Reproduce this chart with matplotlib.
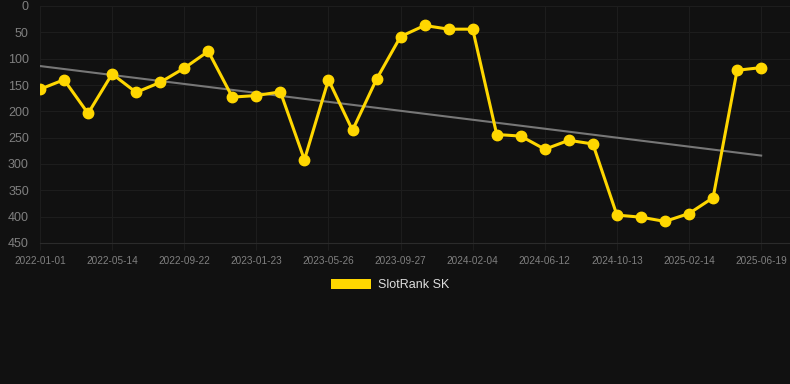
import numpy as np
import matplotlib.pyplot as plt
from matplotlib.patches import Patch

plt.rcParams['font.family'] = ['Liberation Sans', 'DejaVu Sans']

# datos
tick_labels = ["2022-01-01", "2022-05-14", "2022-09-22", "2023-01-23", "2023-05-26",
               "2023-09-27", "2024-02-04", "2024-06-12", "2024-10-13", "2025-02-14",
               "2025-06-19"]
rank = [158, 140, 204, 129, 164, 145, 118, 86, 173, 170, 163, 292, 140, 236, 139,
        58, 37, 44, 44, 244, 247, 272, 255, 262, 397, 401, 409, 394, 364, 122, 117]
trend_ends = [114, 284]

bg = "#111111"
x = np.arange(len(rank))

fig = plt.figure(figsize=(7.9, 3.84), dpi=100, facecolor=bg)
ax = fig.add_axes([40 / 790, 1 - 243 / 384, 750 / 790, 237 / 384], facecolor=bg)

ax.plot([x[0], x[-1]], trend_ends, color="#777777", linewidth=1.5, zorder=2)
ax.plot(x, rank, color="#FFD700", linewidth=2.2, marker="o", markersize=7.5, zorder=3)

ax.set_ylim(450, 0)
ax.set_xlim(0, 31.2)
ax.set_yticks(range(0, 451, 50))
ax.set_xticks(x[::3])
ax.set_xticklabels(tick_labels)
ax.grid(color="#1d1d1d", linewidth=0.8)
for s in ax.spines.values():
    s.set_visible(False)
ax.spines["bottom"].set_visible(True)
ax.spines["bottom"].set_color("#2b2b2b")
ax.tick_params(axis="y", length=0, colors="#808080", labelsize=9, pad=8)
ax.tick_params(axis="x", length=5, color="#1d1d1d", colors="#808080", labelsize=7.2, pad=4)

leg = fig.legend(handles=[Patch(facecolor="#FFD700", label="SlotRank SK")],
                 loc="center", bbox_to_anchor=(390 / 790, 1 - 285 / 384),
                 frameon=False, handlelength=3.2, handleheight=0.9,
                 fontsize=9, labelcolor="#dddddd", handletextpad=0.5)

plt.savefig("out.png", dpi=100, facecolor=bg)
